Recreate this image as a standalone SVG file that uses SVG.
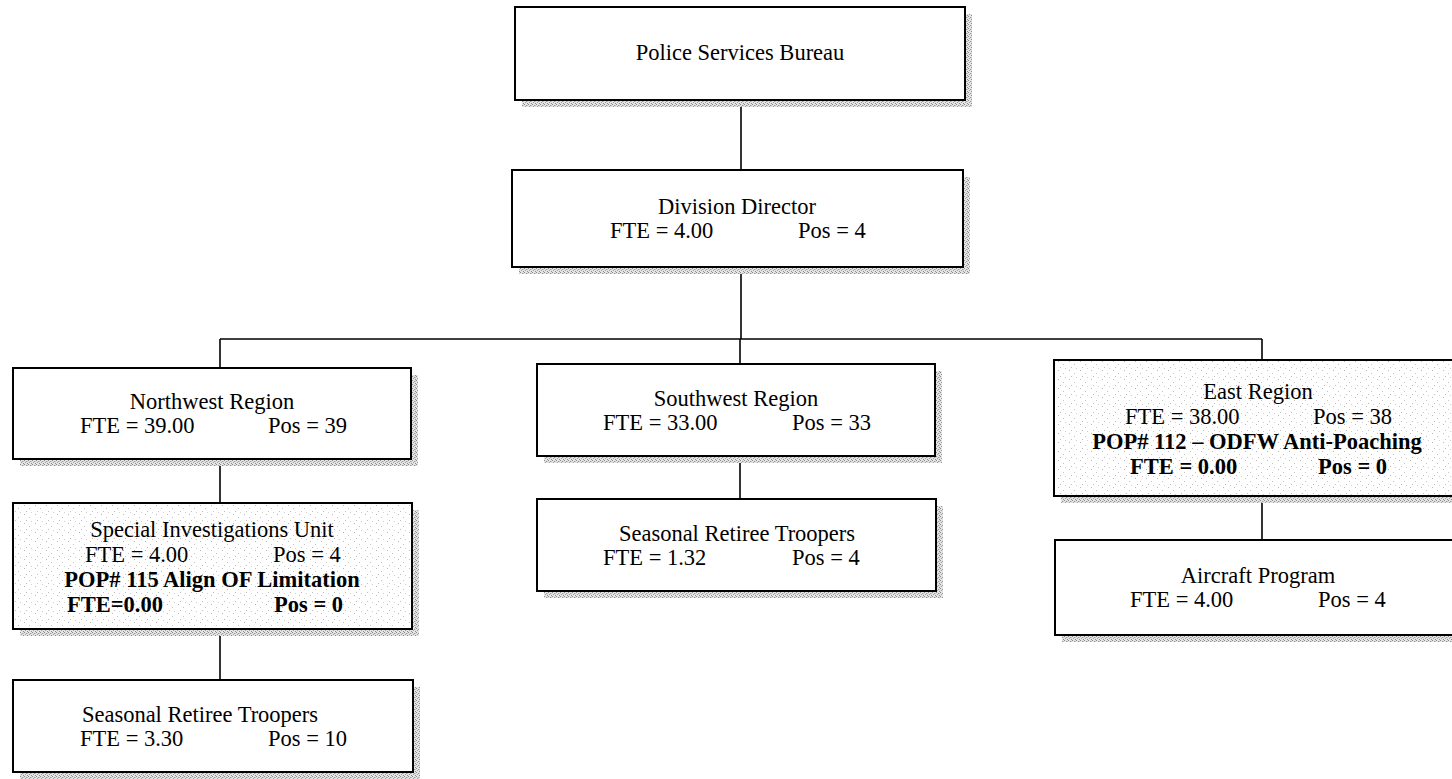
<svg xmlns="http://www.w3.org/2000/svg" width="1452" height="779" viewBox="0 0 1452 779">
  <defs>
    <!-- grainy drop shadow texture -->
    <pattern id="shade" width="4" height="4" patternUnits="userSpaceOnUse">
      <rect width="4" height="4" fill="#e4e4e4"/>
      <rect x="0" y="0" width="1" height="1" fill="#8a8a8a"/>
      <rect x="2" y="1" width="1" height="1" fill="#9a9a9a"/>
      <rect x="1" y="2" width="1" height="1" fill="#a0a0a0"/>
      <rect x="3" y="3" width="1" height="1" fill="#8e8e8e"/>
      <rect x="3" y="1" width="1" height="1" fill="#c4c4c4"/>
    </pattern>
    <!-- sparse speckle used inside highlighted units -->
    <pattern id="speckle" width="11" height="9" patternUnits="userSpaceOnUse">
      <rect width="11" height="9" fill="#ffffff"/>
      <rect x="2" y="1" width="1" height="1" fill="#b8b8b8"/>
      <rect x="7" y="4" width="1" height="1" fill="#c4c4c4"/>
      <rect x="4" y="7" width="1" height="1" fill="#bcbcbc"/>
      <rect x="9" y="8" width="1" height="1" fill="#d0d0d0"/>
    </pattern>
  </defs>
  <style>
    .shadow { fill: url(#shade); }
    .box { fill: #ffffff; stroke: #000000; stroke-width: 2; }
    .box.hl { fill: url(#speckle); }
    .t { font-family: "Liberation Serif", "Times New Roman", serif; font-size: 22.5px; fill: #000000; }
    .c { text-anchor: middle; }
    .b { font-weight: bold; }
    .conn { stroke: #000000; stroke-width: 1.6; fill: none; }
  </style>

  <rect width="1452" height="779" fill="#ffffff"/>

  <!-- reporting lines -->
  <g id="connectors">
    <line class="conn" x1="741" y1="100" x2="741" y2="170"/>
    <line class="conn" x1="741" y1="267" x2="741" y2="339"/>
    <line class="conn" x1="220" y1="339" x2="1262" y2="339"/>
    <line class="conn" x1="220" y1="339" x2="220" y2="368"/>
    <line class="conn" x1="740" y1="339" x2="740" y2="364"/>
    <line class="conn" x1="1262" y1="339" x2="1262" y2="360"/>
    <line class="conn" x1="220" y1="459" x2="220" y2="503"/>
    <line class="conn" x1="220" y1="629" x2="220" y2="680"/>
    <line class="conn" x1="740" y1="456" x2="740" y2="499"/>
    <line class="conn" x1="1262" y1="496" x2="1262" y2="540"/>
  </g>

  <g id="police-services-bureau">
    <rect class="shadow" x="522" y="14" width="450" height="93"/>
    <rect class="box" x="515" y="7" width="450" height="93"/>
    <text class="t c" x="740" y="60">Police Services Bureau</text>
  </g>

  <g id="division-director">
    <rect class="shadow" x="519" y="177" width="451" height="97"/>
    <rect class="box" x="512" y="170" width="451" height="97"/>
    <text class="t c" x="737" y="214">Division Director</text>
    <text class="t" x="610" y="238">FTE = 4.00</text>
    <text class="t" x="798" y="238">Pos = 4</text>
  </g>

  <g id="northwest-region">
    <rect class="shadow" x="20" y="375" width="398" height="91"/>
    <rect class="box" x="13" y="368" width="398" height="91"/>
    <text class="t c" x="212" y="409">Northwest Region</text>
    <text class="t" x="80" y="433">FTE = 39.00</text>
    <text class="t" x="268" y="433">Pos = 39</text>
  </g>

  <g id="special-investigations-unit">
    <rect class="shadow" x="20" y="510" width="399" height="126"/>
    <rect class="box hl" x="13" y="503" width="399" height="126"/>
    <text class="t c" x="212" y="537">Special Investigations Unit</text>
    <text class="t" x="85" y="562">FTE = 4.00</text>
    <text class="t" x="273" y="562">Pos = 4</text>
    <text class="t c b" x="212" y="587">POP# 115 Align OF Limitation</text>
    <text class="t b" x="67" y="612">FTE=0.00</text>
    <text class="t b" x="274" y="612">Pos = 0</text>
  </g>

  <g id="northwest-seasonal-retiree-troopers">
    <rect class="shadow" x="20" y="687" width="400" height="92"/>
    <rect class="box" x="13" y="680" width="400" height="92"/>
    <text class="t c" x="200" y="722">Seasonal Retiree Troopers</text>
    <text class="t" x="80" y="746">FTE = 3.30</text>
    <text class="t" x="268" y="746">Pos = 10</text>
  </g>

  <g id="southwest-region">
    <rect class="shadow" x="544" y="371" width="398" height="92"/>
    <rect class="box" x="537" y="364" width="398" height="92"/>
    <text class="t c" x="736" y="406">Southwest Region</text>
    <text class="t" x="603" y="430">FTE = 33.00</text>
    <text class="t" x="792" y="430">Pos = 33</text>
  </g>

  <g id="southwest-seasonal-retiree-troopers">
    <rect class="shadow" x="544" y="506" width="399" height="92"/>
    <rect class="box" x="537" y="499" width="399" height="92"/>
    <text class="t c" x="737" y="541">Seasonal Retiree Troopers</text>
    <text class="t" x="603" y="565">FTE = 1.32</text>
    <text class="t" x="792" y="565">Pos = 4</text>
  </g>

  <!-- the two right-hand boxes run past the right margin -->
  <g id="east-region">
    <rect class="shadow" x="1061" y="367" width="402" height="136"/>
    <rect class="box hl" x="1054" y="360" width="402" height="136"/>
    <text class="t c" x="1258" y="399">East Region</text>
    <text class="t" x="1125" y="424">FTE = 38.00</text>
    <text class="t" x="1313" y="424">Pos = 38</text>
    <text class="t c b" x="1257" y="449">POP# 112 – ODFW Anti-Poaching</text>
    <text class="t b" x="1130" y="474">FTE = 0.00</text>
    <text class="t b" x="1318" y="474">Pos = 0</text>
  </g>

  <g id="aircraft-program">
    <rect class="shadow" x="1062" y="547" width="402" height="95"/>
    <rect class="box" x="1055" y="540" width="402" height="95"/>
    <text class="t c" x="1258" y="583">Aircraft Program</text>
    <text class="t" x="1130" y="607">FTE = 4.00</text>
    <text class="t" x="1318" y="607">Pos = 4</text>
  </g>
</svg>
